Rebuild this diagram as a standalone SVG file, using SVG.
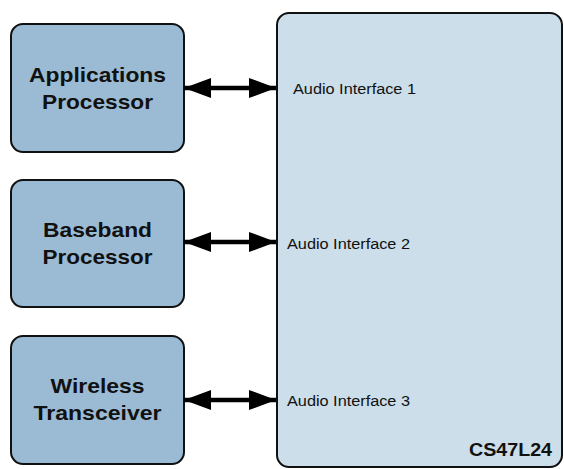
<svg xmlns="http://www.w3.org/2000/svg" width="564" height="469" viewBox="0 0 564 469">
<defs>
<style>
.blk{fill:#9bbbd4;stroke:#111;stroke-width:2}
.chip{fill:#ccdee9;stroke:#111;stroke-width:2}
.lbl{font-family:"Liberation Sans",Arial,sans-serif;font-weight:bold;font-size:21px;fill:#111;text-anchor:middle}
.ai{font-family:"Liberation Sans",Arial,sans-serif;font-size:15.5px;fill:#111}
.conn{stroke:#000;stroke-width:4.5;fill:none;marker-start:url(#ah);marker-end:url(#ah)}
</style>
<marker id="ah" viewBox="0 0 27 20" refX="27" refY="10" markerWidth="27" markerHeight="20" markerUnits="userSpaceOnUse" orient="auto-start-reverse">
<path d="M0,0 L27,10 L0,20 Z" fill="#000"/>
</marker>
</defs>
<rect width="564" height="469" fill="#fff"/>
<g id="cs47l24">
<rect class="chip" x="277" y="13" width="285" height="454" rx="12"/>
<text class="ai" x="293" y="94" textLength="123" lengthAdjust="spacingAndGlyphs">Audio Interface 1</text>
<text class="ai" x="287" y="248.5" textLength="123" lengthAdjust="spacingAndGlyphs">Audio Interface 2</text>
<text class="ai" x="287" y="406" textLength="123" lengthAdjust="spacingAndGlyphs">Audio Interface 3</text>
<text x="469" y="456" textLength="83" lengthAdjust="spacingAndGlyphs" style="font-family:'Liberation Sans',Arial,sans-serif;font-weight:bold;font-size:19px;fill:#111">CS47L24</text>
</g>
<g id="app">
<rect class="blk" x="11" y="24" width="173" height="128" rx="12"/>
<text class="lbl" x="97.5" y="81.5" textLength="137" lengthAdjust="spacingAndGlyphs">Applications</text>
<text class="lbl" x="97.5" y="109" textLength="111" lengthAdjust="spacingAndGlyphs">Processor</text>
</g>
<g id="baseband">
<rect class="blk" x="11" y="180" width="173" height="127" rx="12"/>
<text class="lbl" x="97.5" y="237" textLength="109" lengthAdjust="spacingAndGlyphs">Baseband</text>
<text class="lbl" x="97.5" y="264" textLength="110" lengthAdjust="spacingAndGlyphs">Processor</text>
</g>
<g id="wireless">
<rect class="blk" x="11" y="336" width="173" height="128" rx="12"/>
<text class="lbl" x="97.5" y="393" textLength="94" lengthAdjust="spacingAndGlyphs">Wireless</text>
<text class="lbl" x="97.5" y="420" textLength="128" lengthAdjust="spacingAndGlyphs">Transceiver</text>
</g>
<g id="connectors">
<line class="conn" x1="184" y1="88" x2="276" y2="88"/>
<line class="conn" x1="184" y1="242" x2="276" y2="242"/>
<line class="conn" x1="184" y1="400" x2="276" y2="400"/>
</g>
</svg>
